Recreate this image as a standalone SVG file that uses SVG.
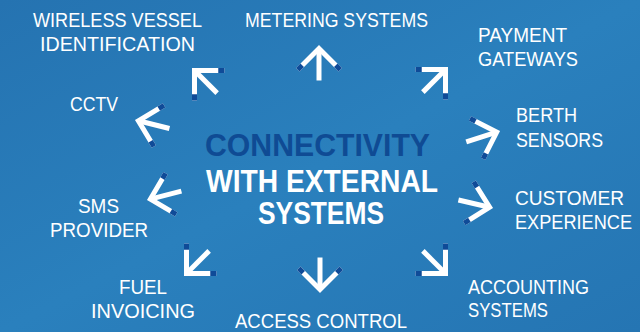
<svg xmlns="http://www.w3.org/2000/svg" xmlns:xlink="http://www.w3.org/1999/xlink" width="640" height="332" viewBox="0 0 640 332">
<defs>
<linearGradient id="bg" x1="0" y1="0" x2="1" y2="1">
<stop offset="0" stop-color="#2573b1"/>
<stop offset="0.5" stop-color="#2a80bd"/>
<stop offset="1" stop-color="#2575b3"/>
</linearGradient>
<g id="arrow">
<polyline points="-21.2,21.2 0,0 21.2,21.2" fill="none" stroke="#ffffff" stroke-width="5" stroke-linejoin="miter" stroke-miterlimit="4"/>
<line x1="0" y1="0" x2="0" y2="32" stroke="#ffffff" stroke-width="5"/>
<line x1="-21.2" y1="21.2" x2="-16.8" y2="16.8" stroke="#0f4b98" stroke-width="5"/>
<line x1="21.2" y1="21.2" x2="16.8" y2="16.8" stroke="#0f4b98" stroke-width="5"/>
</g>
<style>
.lbl{font-family:"Liberation Sans","Open Sans",sans-serif;font-size:20px;fill:#ffffff}
.ttl{font-family:"Liberation Sans","Open Sans",sans-serif;font-size:32px;font-weight:bold}
</style>
</defs>
<rect x="0" y="0" width="640" height="332" fill="url(#bg)"/>
<g id="connectors">
<use xlink:href="#arrow" transform="translate(194.5,70.5) rotate(-45)"/>
<use xlink:href="#arrow" transform="translate(319,48.5)"/>
<use xlink:href="#arrow" transform="translate(445.5,69.5) rotate(45)"/>
<use xlink:href="#arrow" transform="translate(138.4,120.8) rotate(-76)"/>
<use xlink:href="#arrow" transform="translate(496.7,132.1) rotate(72)"/>
<use xlink:href="#arrow" transform="translate(150.4,199.1) rotate(-104.5)"/>
<use xlink:href="#arrow" transform="translate(489.6,207.2) rotate(103)"/>
<use xlink:href="#arrow" transform="translate(186.5,273.5) rotate(-135)"/>
<use xlink:href="#arrow" transform="translate(320,289.5) rotate(180)"/>
<use xlink:href="#arrow" transform="translate(445.5,273.5) rotate(135)"/>
</g>
<g id="center">
<text class="ttl" x="205" y="156" fill="#0f4b94" textLength="225" lengthAdjust="spacingAndGlyphs">CONNECTIVITY</text>
<text class="ttl" x="206" y="192" fill="#ffffff" textLength="232" lengthAdjust="spacingAndGlyphs">WITH EXTERNAL</text>
<text class="ttl" x="258" y="224" fill="#ffffff" textLength="126" lengthAdjust="spacingAndGlyphs">SYSTEMS</text>
</g>
<g id="wireless">
<text class="lbl" x="33" y="27" textLength="169" lengthAdjust="spacingAndGlyphs">WIRELESS VESSEL</text>
<text class="lbl" x="40" y="51" textLength="155" lengthAdjust="spacingAndGlyphs">IDENTIFICATION</text>
</g>
<g id="metering">
<text class="lbl" x="245" y="27" textLength="183" lengthAdjust="spacingAndGlyphs">METERING SYSTEMS</text>
</g>
<g id="payment">
<text class="lbl" x="478" y="42" textLength="89" lengthAdjust="spacingAndGlyphs">PAYMENT</text>
<text class="lbl" x="478" y="66" textLength="100" lengthAdjust="spacingAndGlyphs">GATEWAYS</text>
</g>
<g id="cctv">
<text class="lbl" x="70" y="111" textLength="48" lengthAdjust="spacingAndGlyphs">CCTV</text>
</g>
<g id="berth">
<text class="lbl" x="516" y="122" textLength="61" lengthAdjust="spacingAndGlyphs">BERTH</text>
<text class="lbl" x="516" y="147" textLength="87" lengthAdjust="spacingAndGlyphs">SENSORS</text>
</g>
<g id="sms">
<text class="lbl" x="78" y="213" textLength="41" lengthAdjust="spacingAndGlyphs">SMS</text>
<text class="lbl" x="50" y="237" textLength="98" lengthAdjust="spacingAndGlyphs">PROVIDER</text>
</g>
<g id="customer">
<text class="lbl" x="515" y="205" textLength="109" lengthAdjust="spacingAndGlyphs">CUSTOMER</text>
<text class="lbl" x="515" y="229" textLength="117" lengthAdjust="spacingAndGlyphs">EXPERIENCE</text>
</g>
<g id="fuel">
<text class="lbl" x="119" y="294" textLength="48" lengthAdjust="spacingAndGlyphs">FUEL</text>
<text class="lbl" x="91" y="318" textLength="104" lengthAdjust="spacingAndGlyphs">INVOICING</text>
</g>
<g id="access">
<text class="lbl" x="235" y="328" textLength="172" lengthAdjust="spacingAndGlyphs">ACCESS CONTROL</text>
</g>
<g id="accounting">
<text class="lbl" x="468" y="294" textLength="121" lengthAdjust="spacingAndGlyphs">ACCOUNTING</text>
<text class="lbl" x="468" y="317" textLength="80" lengthAdjust="spacingAndGlyphs">SYSTEMS</text>
</g>
</svg>
